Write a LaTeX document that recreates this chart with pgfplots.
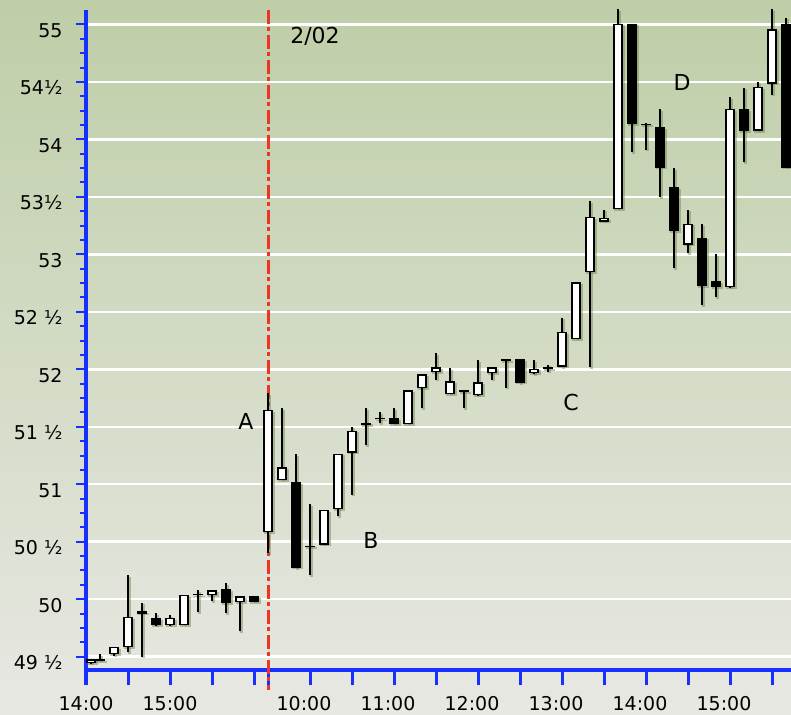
\documentclass[border=0pt]{standalone}
\usepackage{fontspec}
\setmainfont{DejaVu Sans}
\usepackage{pgfplots}
\usepackage{pgfplotstable}
\pgfplotsset{compat=1.18}

\definecolor{axblue}{RGB}{24,48,255}
\definecolor{bgtop}{RGB}{190,206,167}
\definecolor{bgmid}{RGB}{213,220,198}
\definecolor{bgbot}{RGB}{232,232,227}
\definecolor{daysep}{RGB}{238,52,36}
\definecolor{shade}{RGB}{105,130,75}

% 10-minute bars: day 1 at x=0..12, day 2 (2/02) from x=13
\pgfplotstableread{
x    O     H     L     C
0.35 49.45 49.47 49.44 49.47
1    49.47 49.52 49.47 49.47
2    49.53 49.58 49.51 49.58
3    49.59 50.21 49.54 49.84
4    49.89 49.97 49.50 49.88
5    49.83 49.88 49.77 49.78
6    49.78 49.86 49.77 49.83
7    49.78 50.03 49.78 50.03
8    50.04 50.08 49.89 50.04
9    50.04 50.08 49.98 50.07
10   50.08 50.14 49.88 49.97
11   49.98 50.02 49.72 50.02
12   50.02 50.02 49.98 49.98
13   50.59 51.79 50.40 51.64
14   51.04 51.66 51.04 51.14
15   51.01 51.26 50.27 50.28
16   50.46 50.83 50.21 50.46
17   50.48 50.77 50.48 50.77
18   50.79 51.26 50.72 51.26
19   51.28 51.50 50.91 51.46
20   51.52 51.66 51.34 51.53
21   51.57 51.63 51.53 51.57
22   51.57 51.66 51.53 51.53
23   51.53 51.82 51.53 51.81
24   51.84 51.96 51.66 51.95
25   51.98 52.14 51.91 52.01
26   51.79 52.01 51.79 51.89
27   51.81 51.82 51.66 51.81
28   51.78 52.08 51.77 51.88
29   51.97 52.01 51.91 52.01
30   52.08 52.09 51.84 52.08
31   52.08 52.09 51.88 51.89
32   51.97 52.08 51.96 52.00
33   52.01 52.04 51.98 52.01
34   52.03 52.45 52.02 52.32
35   52.27 52.75 52.27 52.75
36   52.85 53.46 52.02 53.32
37   53.29 53.39 53.29 53.31
38   53.40 55.13 53.40 55.00
39   55.00 55.00 53.89 54.14
40   54.13 54.14 53.91 54.13
41   54.10 54.26 53.50 53.76
42   53.58 53.75 52.88 53.21
43   53.09 53.39 53.01 53.26
44   53.14 53.26 52.56 52.73
45   52.76 53.00 52.63 52.72
46   52.72 54.37 52.71 54.26
47   54.26 54.45 53.80 54.08
48   54.08 54.50 54.08 54.45
49   54.49 55.13 54.39 54.95
50   55.00 55.06 53.76 53.76
}\candles

\pgfplotsset{
  candlebar/.style={draw=none, mark=none,
    error bars/y dir=plus, error bars/y explicit, error bars/error mark=none,
    error bars/error bar style={draw=#1}},
}

\begin{document}
\begin{tikzpicture}
\shade[top color=bgtop, middle color=bgmid, bottom color=bgbot] (0,0) rectangle (791bp,715bp);
\begin{axis}[
    at={(86bp,45bp)}, anchor=south west,
    x=14bp, y=114.95bp,
    xmin=0, xmax=50.36,
    ymin=49.384, ymax=55.126,
    axis x line*=bottom, axis y line*=left,
    axis line style={axblue, line width=4bp, -},
    tick align=outside,
    major tick length=10bp, minor tick length=6bp,
    tick style={axblue, line width=2bp},
    xtick=\empty,
    extra x ticks={0,3,6,9,12,13,16,19,22,25,28,31,34,37,40,43,46,49},
    extra x tick labels={{\hspace*{12bp}14:00},,{\hspace*{12bp}15:00},,,,10:00,,11:00,,12:00,,13:00,,14:00,,15:00,},
    extra x tick style={major tick length=15bp, tick style={axblue, line width=3bp}},
    xticklabel style={xshift=-6bp, yshift=-8bp},
    ytick={49.5,50,...,55},
    yticklabels={49 ½,50,50 ½,51,51 ½,52,52 ½,53,53½,54,54½,55},
    minor y tick num=3,
    yticklabel style={xshift=-10bp, yshift=-6bp},
    ymajorgrids,
    major grid style={white, line width=2.5bp},
    tick label style={font=\fontsize{19bp}{22bp}\selectfont, black},
    clip=false,
]
% session break 2/02
\addplot[daysep, line width=3bp, dash pattern=on 14bp off 3.5bp on 4bp off 3.5bp]
    coordinates {(13,55.126) (13,49.21)};

% soft shadows, offset right and down
\addplot[candlebar=shade, error bars/error bar style={opacity=0.45, line width=2.6bp}]
    table[x expr=\thisrow{x}+0.12, y expr=\thisrow{L}-0.015,
          y error expr=\thisrow{H}-\thisrow{L}] {\candles};
\addplot[candlebar=shade, error bars/error bar style={opacity=0.45, line width=10.5bp}]
    table[x expr=\thisrow{x}+0.12, y expr={min(\thisrow{O},\thisrow{C})-0.021},
          y error expr={abs(\thisrow{C}-\thisrow{O})+0.012}] {\candles};

% wicks
\addplot[candlebar=black, error bars/error bar style={line width=1.5bp}]
    table[x=x, y=L, y error expr=\thisrow{H}-\thisrow{L}] {\candles};
% bodies: black outline / filled body
\addplot[candlebar=black, error bars/error bar style={line width=9.5bp}]
    table[x=x, y expr={min(\thisrow{O},\thisrow{C})-0.006},
          y error expr={abs(\thisrow{C}-\thisrow{O})+0.012}] {\candles};
% white interior of rising bars
\addplot[candlebar=white, error bars/error bar style={line width=6.7bp},
    restrict expr to domain={\thisrow{C}-\thisrow{O}}{0.015:10}]
    table[x=x, y expr={\thisrow{O}+0.006},
          y error expr={\thisrow{C}-\thisrow{O}-0.012}] {\candles};

\node[font=\fontsize{22bp}{22bp}\selectfont] at (axis cs:16.36,54.896) {2/02};
\node[font=\fontsize{22bp}{22bp}\selectfont] at (axis cs:11.43,51.542) {A};
\node[font=\fontsize{22bp}{22bp}\selectfont] at (axis cs:20.36,50.507) {B};
\node[font=\fontsize{22bp}{22bp}\selectfont] at (axis cs:34.64,51.707) {C};
\node[font=\fontsize{22bp}{22bp}\selectfont] at (axis cs:42.57,54.491) {D};
\end{axis}
\pgfresetboundingbox
\useasboundingbox (0,0) rectangle (791bp,715bp);
\end{tikzpicture}
\end{document}
